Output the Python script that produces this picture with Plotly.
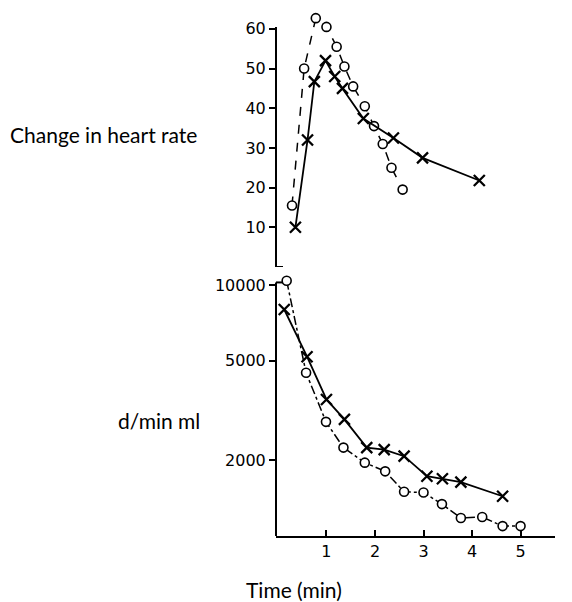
import plotly.graph_objects as go

# Top panel: change in heart rate
hr_o_t = [0.29, 0.54, 0.78, 1.00, 1.21, 1.37, 1.55, 1.79, 1.98, 2.16, 2.34, 2.57]
hr_o_v = [15.5, 50, 62.7, 60.5, 55.5, 50.5, 45.5, 40.5, 35.5, 31, 25, 19.5]
hr_x_t = [0.36, 0.61, 0.75, 0.98, 1.17, 1.33, 1.76, 2.38, 2.98, 4.15]
hr_x_v = [10, 32, 46.7, 52, 48, 45, 37.4, 32.5, 27.5, 21.8]

# Bottom panel: d/min ml (log scale)
dm_o_t = [0.18, 0.58, 0.99, 1.35, 1.79, 2.21, 2.60, 3.00, 3.38, 3.77, 4.21, 4.63, 5.00]
dm_o_v = [10400, 4470, 2850, 2250, 1960, 1810, 1500, 1490, 1340, 1180, 1190, 1095, 1095]
dm_x_t = [0.13, 0.60, 1.00, 1.37, 1.83, 2.19, 2.60, 3.07, 3.39, 3.77, 4.63]
dm_x_v = [7990, 5180, 3500, 2915, 2250, 2210, 2080, 1730, 1690, 1640, 1440]

top_ticks = [10, 20, 30, 40, 50, 60]
bot_ticks = [2000, 5000, 10000]
bot_tick_text = ["2000", "5000", "10000"]
x_ticks = [1, 2, 3, 4, 5]

TICKFONT = dict(family="DejaVu Sans", size=16, color="black")
LABELFONT = dict(family="Lato", size=21, color="black")

circ = dict(symbol="circle", size=9, color="white", line=dict(color="black", width=1.6))
cross = dict(symbol="x-thin-open", size=11, color="black", line=dict(color="black", width=2.3))

# page body has an 8px margin; figure is sized and placed accordingly
W, H = 564, 594
L, R, T, B = 268, 17, 3, 66
PW, PH = W - L - R, H - T - B  # 279 x 525


def px(sx):
    return (sx - 8 - L) / PW


def py(sy):
    return 1 - (sy - 8 - T) / PH


fig = go.Figure()
fig.add_trace(go.Scatter(x=hr_o_t, y=hr_o_v, mode="lines+markers", xaxis="x", yaxis="y",
                         line=dict(color="black", width=1.5, dash="dash"), marker=circ))
fig.add_trace(go.Scatter(x=hr_x_t, y=hr_x_v, mode="lines+markers", xaxis="x", yaxis="y",
                         line=dict(color="black", width=1.8), marker=cross))
fig.add_trace(go.Scatter(x=dm_o_t, y=dm_o_v, mode="lines+markers", xaxis="x2", yaxis="y2",
                         line=dict(color="black", width=1.5, dash="dashdot"), marker=circ))
fig.add_trace(go.Scatter(x=dm_x_t, y=dm_x_v, mode="lines+markers", xaxis="x2", yaxis="y2",
                         line=dict(color="black", width=1.8), marker=cross))

xr = [-0.04, 5.71]
top_range = [0, 64.5]
bot_range = [3.0, 4.04]
fig.update_layout(
    width=W, height=H,
    margin=dict(l=L, r=R, t=T, b=B),
    paper_bgcolor="white", plot_bgcolor="white",
    showlegend=False,
    xaxis=dict(domain=[0, 1], range=xr, anchor="y", visible=False),
    yaxis=dict(domain=[py(267), 1], range=top_range, tickvals=top_ticks, showline=False,
               ticks="outside", ticklen=6, tickwidth=2,
               tickcolor="black", tickfont=TICKFONT, showgrid=False, zeroline=False,
               anchor="x"),
    xaxis2=dict(domain=[0, 1], range=xr, anchor="y2", tickvals=x_ticks, showline=True,
                linecolor="black", linewidth=2, ticks="inside", ticklen=6, tickwidth=2,
                tickcolor="black", tickfont=TICKFONT, showgrid=False, zeroline=False),
    yaxis2=dict(domain=[0, py(275)], type="log", range=bot_range, tickvals=bot_ticks,
                ticktext=bot_tick_text, showline=False,
                ticks="outside", ticklen=6, tickwidth=2, tickcolor="black", tickfont=TICKFONT,
                showgrid=False, zeroline=False, anchor="x2"),
    shapes=[
        # top panel vertical axis line (0 to ~60.5) with small hook at the base
        dict(type="line", xref="x domain", yref="y", x0=0, x1=0, y0=0, y1=60.5,
             line=dict(color="black", width=2)),
        dict(type="line", xref="x domain", yref="y", x0=0, x1=0.025, y0=0, y1=0,
             line=dict(color="black", width=2)),
        # bottom panel vertical axis line (1000 to 10000) with hook at top
        dict(type="line", xref="x2 domain", yref="y2 domain", x0=0, x1=0, y0=0, y1=1 / 1.04 + 0.01,
             line=dict(color="black", width=2)),
        dict(type="line", xref="x2 domain", yref="y2 domain", x0=0, x1=0.025,
             y0=1 / 1.04 + 0.01, y1=1 / 1.04 + 0.01,
             line=dict(color="black", width=2)),
    ],
    annotations=[
        dict(text="Change in heart rate", xref="paper", yref="paper", x=px(8), y=py(135),
             xanchor="left", yanchor="middle", showarrow=False, font=LABELFONT),
        dict(text="d/min ml", xref="paper", yref="paper", x=px(116), y=py(420),
             xanchor="left", yanchor="middle", showarrow=False, font=LABELFONT),
        dict(text="Time (min)", xref="paper", yref="paper", x=px(244), y=py(589),
             xanchor="left", yanchor="middle", showarrow=False, font=LABELFONT),
    ],
)

fig.write_html("out.html")
